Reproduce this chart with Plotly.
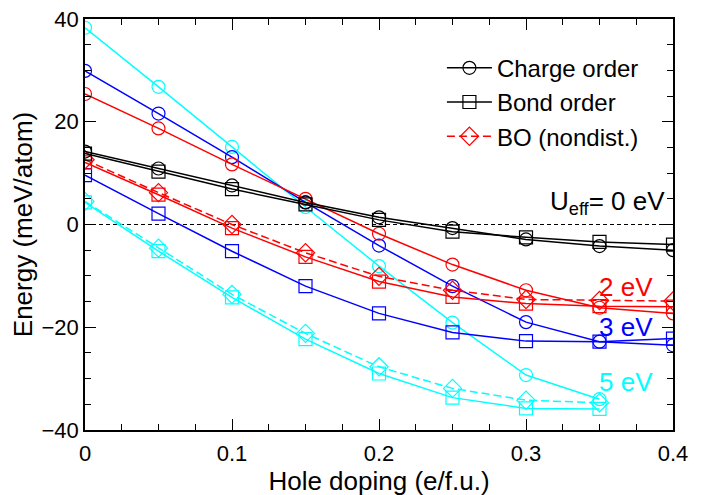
import plotly.graph_objects as go

# ---- data ----
doping = [0, 0.05, 0.1, 0.15, 0.2, 0.25, 0.3, 0.35, 0.4]
doping_5 = [0, 0.05, 0.1, 0.15, 0.2, 0.25, 0.3, 0.35]

co_u0 = [14.2, 10.9, 7.6, 4.3, 1.4, -0.7, -2.9, -4.2, -5.0]
bo_u0 = [13.8, 10.3, 6.9, 3.9, 0.9, -1.4, -2.5, -3.4, -3.9]

co_u2 = [25.4, 18.7, 11.7, 5.0, -1.8, -7.8, -12.8, -16.2, -17.3]
bo_u2 = [12.1, 5.8, -0.7, -6.3, -11.1, -14.1, -15.4, -15.9, -16.0]
bond_u2 = [12.6, 6.2, 0.0, -5.5, -10.1, -12.8, -14.6, -14.8, -14.9]

co_u3 = [29.9, 21.6, 13.1, 4.3, -4.1, -12.0, -19.0, -22.8, -23.5]
bo_u3 = [9.6, 2.1, -5.2, -12.0, -17.3, -21.0, -22.7, -22.8, -22.2]

co_u5 = [38.3, 26.8, 15.1, 3.4, -8.1, -19.1, -29.3, -34.0]
bo_u5 = [4.3, -5.2, -14.2, -22.3, -29.0, -33.7, -35.8, -35.9]
bond_u5 = [4.5, -4.6, -13.6, -21.2, -27.7, -31.9, -34.2, -34.7]

legend_names = ["Charge order", "Bond order", "BO (nondist.)"]
u_labels = ["U<sub>eff</sub>= 0 eV", "2 eV", "3 eV", "5 eV"]

FONT = "Liberation Sans, Arial, Helvetica, sans-serif"
BLACK, RED, BLUE, CYAN = "#000000", "#ff0000", "#0000ff", "#00ffff"

fig = go.Figure()


def add(x, y, color, symbol, dash="solid", name=None, rank=None):
    fig.add_trace(go.Scatter(
        x=x, y=y, mode="lines+markers",
        line=dict(color=color, width=1.5, dash=dash),
        marker=dict(symbol=symbol, size=13 if symbol != "diamond-open" else 14,
                    color=color, line=dict(color=color, width=1.2)),
        name=name, showlegend=name is not None,
        legendrank=rank if rank is not None else 1000,
    ))


add(doping_5, co_u5, CYAN, "circle-open")
add(doping_5, bo_u5, CYAN, "square-open")
add(doping_5, bond_u5, CYAN, "diamond-open", dash="8px,4px")
add(doping, co_u3, BLUE, "circle-open")
add(doping, bo_u3, BLUE, "square-open")
add(doping, co_u2, RED, "circle-open")
add(doping, bo_u2, RED, "square-open")
add(doping, bond_u2, RED, "diamond-open", dash="8px,4px", name=legend_names[2], rank=3)
add(doping, co_u0, BLACK, "circle-open", name=legend_names[0], rank=1)
add(doping, bo_u0, BLACK, "square-open", name=legend_names[1], rank=2)

# zero reference line
fig.add_shape(type="line", xref="x", yref="y", x0=0, x1=0.4, y0=0, y1=0,
              line=dict(color=BLACK, width=1, dash="4px,3px"), layer="below")

ann = [
    (u_labels[0], 0.396, 4.3, BLACK),
    (u_labels[1], 0.388, -12.2, RED),
    (u_labels[2], 0.388, -20.0, BLUE),
    (u_labels[3], 0.388, -30.7, CYAN),
]
for txt, ax, ay, col in ann:
    fig.add_annotation(x=ax, y=ay, xref="x", yref="y", text=txt, showarrow=False,
                       xanchor="right", yanchor="middle",
                       font=dict(family=FONT, size=26, color=col))

axis_common = dict(
    showline=True, linecolor=BLACK, linewidth=1.5, mirror="allticks",
    ticks="inside", ticklen=11, tickwidth=1.2, tickcolor=BLACK,
    showgrid=False, zeroline=False, ticklabeloverflow="allow",
    tickfont=dict(family=FONT, size=22, color=BLACK),
)

fig.update_xaxes(range=[0, 0.4],
                 tickvals=[0, 0.1, 0.2, 0.3, 0.4], ticktext=["0", "0.1", "0.2", "0.3", "0.4"],
                 minor=dict(dtick=0.025, ticks="inside", ticklen=6, tickcolor=BLACK, tickwidth=1.2),
                 ticklabelstandoff=3,
                 title=dict(text="Hole doping (e/f.u.)", font=dict(family=FONT, size=26, color=BLACK), standoff=3),
                 **axis_common)
fig.update_yaxes(range=[-40, 40], tick0=-40, dtick=20,
                 minor=dict(dtick=5, ticks="inside", ticklen=6, tickcolor=BLACK, tickwidth=1.2),
                 title=dict(text="Energy (meV/atom)", font=dict(family=FONT, size=26, color=BLACK), standoff=2),
                 **axis_common)

# the page body has an 8px margin, so the margins below are shifted to compensate
fig.update_layout(
    width=706, height=495,
    margin=dict(l=77, r=41, t=11, b=73, autoexpand=False),
    paper_bgcolor="white", plot_bgcolor="white",
    font=dict(family=FONT, color=BLACK),
    legend=dict(x=0.607, y=0.935, xanchor="left", yanchor="top",
                bgcolor="rgba(0,0,0,0)", borderwidth=0,
                font=dict(family=FONT, size=24, color=BLACK),
                itemwidth=45, tracegroupgap=0, traceorder="normal"),
)

fig.write_html("out.html")
